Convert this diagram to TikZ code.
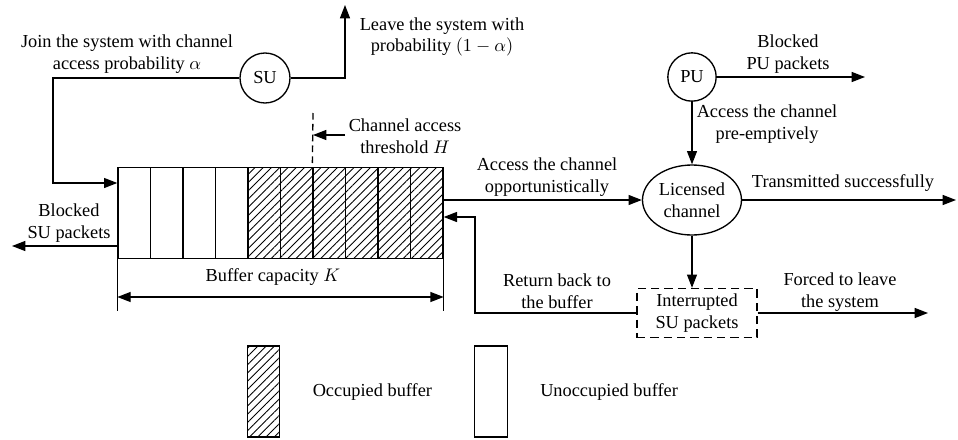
\documentclass[tikz,border=0pt]{standalone}
\usepackage{fontspec}
\setmainfont{Liberation Serif}
\usetikzlibrary{positioning}
\usetikzlibrary{arrows.meta}
\usetikzlibrary{shapes.geometric}
\usetikzlibrary{patterns.meta}

\begin{document}
\begin{tikzpicture}[
        x=0.6pt, y=-0.6pt,
        font=\fontsize{11}{13}\selectfont,
        line width=0.8pt,
        node distance=19pt,
        arrow/.style={-{Triangle[length=8pt, width=6pt]}},
        dimarrow/.style={{Triangle[length=8pt, width=6pt]}-{Triangle[length=8pt, width=6pt]}},
        user/.style={draw, circle, minimum size=30pt, inner sep=0},
        slot/.style={draw, rectangle, minimum width=19.5pt, minimum height=54.6pt, inner sep=0},
        busy/.style={slot, pattern={Lines[angle=45, distance=3.5pt, line width=0.5pt]}, pattern color=black},
        lbl/.style={align=center, inner sep=0},
    ]
        \useasboundingbox (0,0) rectangle (958,439);

        % buffer
        \foreach \i in {1,...,4}
            \node[slot] (cell\i) at ({118+32.5*(\i-0.5)},212.7) {};
        \foreach \i in {5,...,10}
            \node[busy] (cell\i) at ({118+32.5*(\i-0.5)},212.7) {};

        \node[user] (su) at (265,78) {SU};
        \node[user, minimum size=29pt] (pu) at (692,77) {PU};
        \node[draw, ellipse, minimum width=59.4pt, minimum height=42pt, inner sep=0, align=center] (channel) at (692,200) {Licensed\\channel};
        \node[draw, dashed, dash pattern=on 5pt off 3pt, minimum width=72pt, minimum height=29.4pt, inner sep=0, align=center] (interrupted) at (697,313) {Interrupted\\SU packets};

        \coordinate (suc) at (53,183);
        \coordinate (leave) at (345,5);
        \coordinate (thtop) at (313,113);
        \coordinate (tharr) at (345,135);
        \coordinate (blk) at (12,246);
        \coordinate (dim) at (0,297);
        \coordinate (ret) at (475,217);
        \coordinate (trans) at (956,200);
        \coordinate (forced) at (928,313);
        \coordinate (pub) at (865,77);

        \draw[arrow] (su.west) -| (suc) -- (suc -| cell1.west);
        \draw[arrow] (su.east) -| (leave);
        \draw[dashed, dash pattern=on 4pt off 2.5pt] (thtop) -- (cell7.north west);
        \draw[arrow] (tharr) -- (tharr -| thtop);
        \draw[arrow] (blk -| cell1.west) -- (blk);
        \draw (cell1.south west) -- ++(0,52);
        \draw (cell10.south east) -- ++(0,52);
        \draw[dimarrow] (dim -| cell1.west) -- (dim -| cell10.east);
        \draw[arrow] (channel.west -| cell10.east) -- (channel.west);
        \draw[arrow] (pu.south) -- (channel.north);
        \draw[arrow] (pu.east) -- (pub);
        \draw[arrow] (channel.east) -- (trans);
        \draw[arrow] (channel.south) -- (channel.south |- interrupted.north);
        \draw[arrow] (interrupted.east) -- (forced);
        \draw[arrow] (interrupted.west) -| (ret) -- (ret -| cell10.east);

        \node[lbl] (joinlbl) at (127,54) {Join the system with channel\\access probability $\alpha$};
        \node[lbl] (leavelbl) at (442,37) {Leave the system with\\probability $(1-\alpha)$};
        \node[lbl] (thlbl) at (405,136) {Channel access\\threshold $H$};
        \node[lbl] (blksu) at (69,223) {Blocked\\SU packets};
        \node[lbl] (caplbl) at (273,277) {Buffer capacity $K$};
        \node[lbl] (opplbl) at (547,177) {Access the channel\\opportunistically};
        \node[lbl] (blkpu) at (788,54) {Blocked\\PU packets};
        \node[lbl] (prelbl) at (767,124) {Access the channel\\pre-emptively};
        \node[lbl] (translbl) at (843,183) {Transmitted successfully};
        \node[lbl] (retlbl) at (557,291) {Return back to\\the buffer};
        \node[lbl] (forcedlbl) at (840,292) {Forced to leave\\the system};

        % legend
        \node[busy] (occ) at (263.5,391.5) {};
        \node[lbl, right = of occ] (occlbl) {Occupied buffer};
        \node[slot] (free) at (491,391.5) {};
        \node[lbl, right = of free] (freelbl) {Unoccupied buffer};
    \end{tikzpicture}
\end{document}
